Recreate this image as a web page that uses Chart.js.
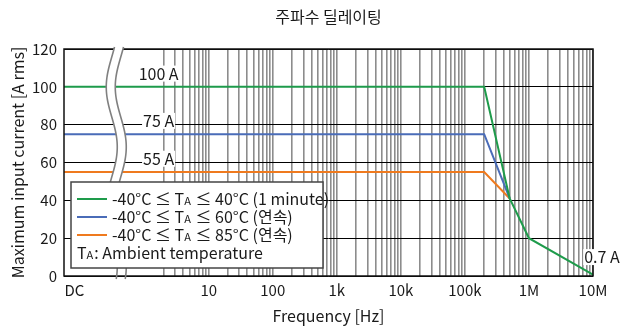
<!DOCTYPE html>
<html>
<head>
<meta charset="utf-8">
<script src="https://cdn.jsdelivr.net/npm/chart.js@4/dist/chart.umd.min.js"></script>
<style>
  html, body { margin: 0; padding: 0; background: #fff; }
  #cadre { width: 630px; height: 329px; }
</style>
</head>
<body>
<div id="cadre"><canvas id="chart"></canvas></div>
<script>
var POLICE = "'Noto Sans CJK KR', 'Noto Sans', sans-serif";
var ENCRE = '#1a1a1a';

// textes
var titre = '주파수 딜레이팅';
var titreX = 'Frequency [Hz]';
var titreY = 'Maximum input current [A rms]';

// axe des x (log, avec "DC" tout a gauche)
var xDC = 0.055;          // bout gauche de l'axe = DC
var xMax = 1e7;
var dcTick = 0.08;        // position de l'etiquette "DC"
var decades = [10, 100, 1e3, 1e4, 1e5, 1e6, 1e7];
var etiquettesDecades = ['10', '100', '1k', '10k', '100k', '1M', '10M'];
var coupure = 0.36;       // ou passe la coupure ondulee

// axe des y
var yMin = 0, yMax = 120, yPas = 20;

// series
var legendes = [
  '-40°C ≤ T_A ≤ 40°C (1 minute)',
  '-40°C ≤ T_A ≤ 60°C (연속)',
  '-40°C ≤ T_A ≤ 85°C (연속)'
];
var noteLegende = 'T_A: Ambient temperature';
var couleurs = ['#1e9b4b', '#4a6cb8', '#ef7a1e'];

var vertX = [xDC, 2e5, 5e5, 1e6, 1e7];
var vertY = [100, 100, 41, 20, 0.7];
var bleuX = [xDC, 2e5, 5e5];
var bleuY = [75, 75, 41];
var orangeX = [xDC, 2e5, 5e5];
var orangeY = [55, 55, 41];

// annotations
var notes = ['100 A', '75 A', '55 A', '0.7 A'];
var notesX = [1.65, 1.65, 1.65, 1.38e7];
var notesY = [107, 82, 62, 10];

function points(xs, ys) {
  var p = [];
  for (var i = 0; i < xs.length; i++) p.push({x: xs[i], y: ys[i]});
  return p;
}

// toutes les lignes verticales: 2..9 x 10^k et les decades
var valeursX = [dcTick];
for (var k = 0; k < 7; k++) {
  for (var m = 2; m <= 10; m++) valeursX.push(m * Math.pow(10, k));
}

function etiquetteX(v) {
  if (Math.abs(v - dcTick) < 1e-9) return 'DC';
  var i = decades.findIndex(function (d) { return Math.abs(v / d - 1) < 1e-6; });
  return i >= 0 ? etiquettesDecades[i] : '';
}

// dessine un texte avec "_A" en petit indice
function texteIndice(ctx, txt, x, y, taille) {
  var morceaux = txt.split('_A');
  for (var i = 0; i < morceaux.length; i++) {
    ctx.font = taille + 'px ' + POLICE;
    ctx.fillText(morceaux[i], x, y);
    x += ctx.measureText(morceaux[i]).width;
    if (i < morceaux.length - 1) {
      ctx.font = Math.round(taille * 0.66) + 'px ' + POLICE;
      ctx.fillText('A', x, y + 1.5);
      x += ctx.measureText('A').width + 1;
    }
  }
}

var deco = {
  id: 'deco',
  beforeDraw: function (chart) {
    var ctx = chart.ctx;
    ctx.save();
    ctx.fillStyle = '#fff';
    ctx.fillRect(0, 0, chart.width, chart.height);
    ctx.restore();
  },
  afterDatasetsDraw: function (chart) {
    var ctx = chart.ctx, a = chart.chartArea;
    var sx = chart.scales.x, sy = chart.scales.y;
    ctx.save();

    // cadre
    ctx.strokeStyle = '#111';
    ctx.lineWidth = 1.5;
    ctx.strokeRect(a.left, a.top, a.right - a.left, a.bottom - a.top);

    // coupure ondulee
    var cx0 = sx.getPixelForValue(coupure);
    var centre = function (py) {
      return cx0 - 5.5 * Math.cos(2 * Math.PI * (py - a.top - 38) / 120);
    };
    var haut = a.top - 2, bas = a.bottom - 1;
    ctx.beginPath();
    for (var py = haut; py <= bas; py++) ctx.lineTo(centre(py) - 4.5, py);
    for (py = bas; py >= haut; py--) ctx.lineTo(centre(py) + 4.5, py);
    ctx.closePath();
    ctx.fillStyle = '#fff';
    ctx.fill();
    ctx.strokeStyle = '#808080';
    ctx.lineWidth = 1.6;
    [-4.5, 4.5].forEach(function (d) {
      ctx.beginPath();
      for (var q = haut; q <= a.bottom + 3; q++) ctx.lineTo(centre(q) + d, q);
      ctx.stroke();
    });

    // annotations
    ctx.font = '16px ' + POLICE;
    ctx.textAlign = 'center';
    ctx.textBaseline = 'middle';
    for (var i = 0; i < notes.length; i++) {
      var nx = sx.getPixelForValue(notesX[i]);
      var ny = sy.getPixelForValue(notesY[i]);
      var w = ctx.measureText(notes[i]).width;
      ctx.fillStyle = '#fff';
      ctx.fillRect(nx - w / 2 - 1, ny - 8, w + 2, 16);
      ctx.fillStyle = ENCRE;
      ctx.fillText(notes[i], nx, ny);
    }

    // legende
    var lx = a.left + 7, ly = a.top + 133, lw = 252, lh = 86;
    ctx.fillStyle = '#fff';
    ctx.fillRect(lx, ly, lw, lh);
    ctx.strokeStyle = '#444';
    ctx.lineWidth = 1.5;
    ctx.strokeRect(lx, ly, lw, lh);
    ctx.textAlign = 'left';
    ctx.textBaseline = 'middle';
    var lignes = legendes.concat([noteLegende]);
    for (i = 0; i < lignes.length; i++) {
      var ry = ly + 17 + i * 18;
      var tx = lx + 6;
      if (i < legendes.length) {
        ctx.strokeStyle = couleurs[i];
        ctx.lineWidth = 2;
        ctx.beginPath();
        ctx.moveTo(lx + 6, ry);
        ctx.lineTo(lx + 36, ry);
        ctx.stroke();
        tx = lx + 41;
      }
      ctx.fillStyle = ENCRE;
      texteIndice(ctx, lignes[i], tx, ry, 16);
    }

    // titres
    ctx.fillStyle = ENCRE;
    ctx.textAlign = 'center';
    ctx.font = '16px ' + POLICE;
    ctx.fillText(titre, (a.left + a.right) / 2, 17);
    ctx.fillText(titreX, (a.left + a.right) / 2, 316);
    ctx.translate(18, (a.top + a.bottom) / 2);
    ctx.rotate(-Math.PI / 2);
    ctx.fillText(titreY, 0, 0);
    ctx.restore();
  }
};

var graphe = new Chart(document.getElementById('chart'), {
  type: 'line',
  data: {
    datasets: [
      {label: legendes[0], data: points(vertX, vertY), borderColor: couleurs[0]},
      {label: legendes[1], data: points(bleuX, bleuY), borderColor: couleurs[1]},
      {label: legendes[2], data: points(orangeX, orangeY), borderColor: couleurs[2]}
    ]
  },
  options: {
    responsive: true,
    maintainAspectRatio: false,
    animation: false,
    events: [],
    layout: {padding: {top: 49, right: 37, left: 0, bottom: 0}},
    elements: {
      line: {borderWidth: 2, tension: 0, fill: false},
      point: {radius: 0}
    },
    plugins: {legend: {display: false}, title: {display: false}, tooltip: {enabled: false}},
    scales: {
      x: {
        type: 'logarithmic',
        min: xDC,
        max: xMax,
        border: {display: false},
        grid: {
          drawTicks: false,
          lineWidth: 1.6,
          color: function (c) {
            return (c.tick && Math.abs(c.tick.value - dcTick) < 1e-9) ? 'rgba(0,0,0,0)' : '#8c8c8c';
          }
        },
        afterBuildTicks: function (scale) {
          scale.ticks = valeursX.map(function (v) { return {value: v}; });
        },
        afterFit: function (scale) { scale.height = 53; },
        ticks: {
          autoSkip: false,
          maxRotation: 0,
          padding: 5,
          color: ENCRE,
          font: {family: POLICE, size: 15},
          callback: function (v) { return etiquetteX(v); }
        }
      },
      y: {
        min: yMin,
        max: yMax,
        border: {display: false},
        grid: {drawTicks: false, color: '#000', lineWidth: 1},
        afterFit: function (scale) { scale.width = 64; },
        ticks: {
          stepSize: yPas,
          padding: 7,
          color: ENCRE,
          font: {family: POLICE, size: 15}
        }
      }
    }
  },
  plugins: [deco]
});
</script>
</body>
</html>
